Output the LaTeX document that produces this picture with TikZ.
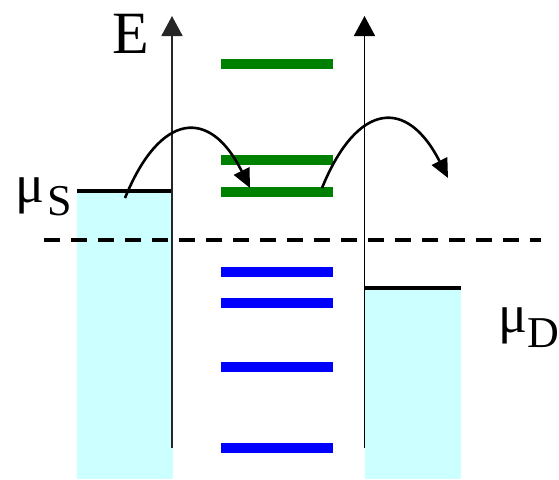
\documentclass[tikz,border=0pt]{standalone}
\usepackage{fontspec}
\setmainfont{Liberation Serif}
\usetikzlibrary{arrows.meta}
\definecolor{bandfill}{HTML}{CCFFFF}
\definecolor{lvlgreen}{HTML}{008000}
\definecolor{lvlblue}{HTML}{0000FF}
\begin{document}
\begin{tikzpicture}[x=1pt,y=-1pt,
  band/.style={fill=bandfill},
  fermi/.style={line width=4.5pt,black},
  glevel/.style={line width=10pt,lvlgreen},
  blevel/.style={line width=10pt,lvlblue},
  axisline/.style={line width=1.8pt,-{Triangle[length=20pt,width=21pt]}},
  hop/.style={line width=2.6pt,-{Triangle[length=19pt,width=17pt]}},
  bias/.style={line width=4pt,dash pattern=on 16pt off 11pt},
  big/.style={anchor=base west,inner sep=0pt,font=\fontsize{60}{60}\selectfont},
  mu/.style={anchor=base west,inner sep=0pt,font=\fontsize{54}{54}\selectfont},
  sub/.style={anchor=base west,inner sep=0pt,font=\fontsize{44}{44}\selectfont}]
\useasboundingbox (0,0) rectangle (559,479);
% leads
\fill[band] (77,191) rectangle (173,479);
\fill[band] (365,288) rectangle (461,479);
\draw[fermi] (77,191) -- (173,191);
\draw[fermi] (365,288) -- (461,288);
% dot levels
\draw[glevel] (221,63.5) -- (333,63.5);
\draw[glevel] (221,160) -- (333,160);
\draw[glevel] (221,191.5) -- (333,191.5);
\draw[blevel] (221,271.5) -- (333,271.5);
\draw[blevel] (221,303) -- (333,303);
\draw[blevel] (221,367) -- (333,367);
\draw[blevel] (221,447.5) -- (333,447.5);
% bias line
\coordinate (dl) at (44,240);
\coordinate (dr) at (541,240);
\draw[bias] (dl) -- (dr);
% barriers / axes
\coordinate (lb) at (172,448);
\coordinate (lt) at (172,16);
\coordinate (rb) at (364.5,448);
\coordinate (rt) at (364.5,16);
\draw[axisline,black!85] (lb) -- (lt);
\draw[axisline,black] (rb) -- (rt);
% hopping arrows
\coordinate (h1s) at (125,198);
\coordinate (h1e) at (250,188);
\coordinate (h2s) at (322,188);
\coordinate (h2e) at (448,178);
\draw[hop] (h1s) .. controls (160,112) and (210,107) .. (h1e);
\draw[hop] (h2s) .. controls (357,102) and (407,97) .. (h2e);
% labels
\node[big] (E) at (112,53) {E};
\node[mu] (muS) at (15,202) {μ};
\node[sub] (S) at (47,215) {S};
\node[mu] (muD) at (498,332) {μ};
\node[sub] (D) at (527,347) {D};
\end{tikzpicture}
\end{document}
